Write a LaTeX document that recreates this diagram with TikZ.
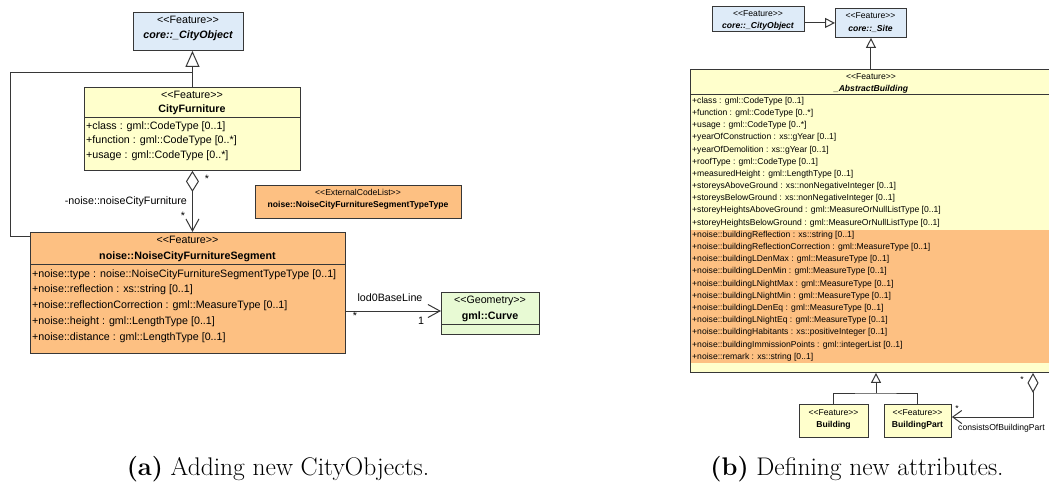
\documentclass[tikz,border=0pt]{standalone}
\usepackage{fontspec}
\setsansfont{Liberation Sans}
\usetikzlibrary{arrows.meta}

\definecolor{featblue}{RGB}{222,235,248}
\definecolor{featyellow}{RGB}{255,255,204}
\definecolor{noiseorange}{RGB}{253,192,130}
\definecolor{geomgreen}{RGB}{232,250,212}
\definecolor{umlline}{RGB}{55,55,55}

\tikzset{classe/.style={draw=umlline,line width=0.9pt,fill=#1,inner sep=0pt,anchor=north west},classe/.default={featyellow}}
\tikzset{grand/.style={inner sep=0pt,text height=7.7pt,text depth=2.1pt,font=\sffamily\fontsize{10.7}{12}\selectfont},
petit/.style={inner sep=0pt,text height=6.2pt,text depth=1.7pt,font=\sffamily\fontsize{8.6}{10}\selectfont},
capt/.style={inner sep=0pt,anchor=base,font=\rmfamily\fontsize{25.5}{28}\selectfont},
ligne/.style={draw=umlline,line width=1pt},
gen/.style={ligne,-{Triangle[open,length=16pt,width=14pt]}},
genb/.style={ligne,-{Triangle[open,length=10pt,width=10pt]}},
agg/.style={ligne,{Diamond[open,length=21pt,width=13pt]}-{Straight Barb[length=12pt,width=13pt]}},
aggb/.style={ligne,{Diamond[open,length=20pt,width=11pt]}-{Straight Barb[length=9pt,width=13pt]}},
assoc/.style={ligne,-{Straight Barb[length=12pt,width=13pt]}}}

\begin{document}
\begin{tikzpicture}[x=1pt,y=-1pt]
\useasboundingbox (0,0) rectangle (1049,482);
\clip (0,0) rectangle (1049,482);

% (a) adding new CityObjects
\node [classe=featblue,minimum width=110pt,minimum height=38pt] (cityobjA) at (133,12) {};
\node [grand] (cityobjAst) at (188,21) {<{}<Feature>{}>};
\node [grand] (cityobjAnm) at (188,36) {\bfseries\itshape core::\_CityObject};

\node [classe,minimum width=216pt,minimum height=83pt] (cfurn) at (84,87) {};
\node [grand] (cfurnst) at (192,96) {<{}<Feature>{}>};
\node [grand] (cfurnnm) at (192,110) {\bfseries CityFurniture};
\draw [umlline,line width=0.9pt] (cfurn.west |- 0,117) -- (cfurn.east |- 0,117);
\node [grand,anchor=west] (cfurn1) at (86,127) {+class : gml::CodeType [0..1]};
\node [grand,anchor=west] (cfurn2) at (86,141) {+function : gml::CodeType [0..*]};
\node [grand,anchor=west] (cfurn3) at (86,156) {+usage : gml::CodeType [0..*]};

\node [classe=noiseorange,minimum width=206pt,minimum height=33pt] (extcode) at (255,185) {};
\node [petit] (extcodest) at (358,193) {<{}<ExternalCodeList>{}>};
\node [petit] (extcodenm) at (358,205) {\bfseries noise::NoiseCityFurnitureSegmentTypeType};

\node [classe=noiseorange,minimum width=315pt,minimum height=121pt] (seg) at (30,232) {};
\node [grand] (segst) at (187.5,241) {<{}<Feature>{}>};
\node [grand] (segnm) at (187.5,257) {\bfseries noise::NoiseCityFurnitureSegment};
\draw [umlline,line width=0.9pt] (seg.west |- 0,264) -- (seg.east |- 0,264);
\node [grand,anchor=west] (seg1) at (32,275) {+noise::type : noise::NoiseCityFurnitureSegmentTypeType [0..1]};
\node [grand,anchor=west] (seg2) at (32,290) {+noise::reflection : xs::string [0..1]};
\node [grand,anchor=west] (seg3) at (32,306) {+noise::reflectionCorrection : gml::MeasureType [0..1]};
\node [grand,anchor=west] (seg4) at (32,322) {+noise::height : gml::LengthType [0..1]};
\node [grand,anchor=west] (seg5) at (32,338) {+noise::distance : gml::LengthType [0..1]};

\node [classe=geomgreen,minimum width=98pt,minimum height=42pt] (curve) at (441,292) {};
\node [grand] (curvest) at (490,301) {<{}<Geometry>{}>};
\node [grand] (curvenm) at (490,317) {\bfseries gml::Curve};
\draw [umlline,line width=0.9pt] (curve.west |- 0,324) -- (curve.east |- 0,324);

\coordinate (genjoin) at (192,72);
\coordinate (coin) at (10,72);
\draw [gen] (cfurn.north) -- (cfurn.north |- cityobjA.south);
\draw [ligne] (seg.west |- 0,236) -| (coin) -- (genjoin);
\draw [agg] (cfurn.south) -- (cfurn.south |- seg.north);
\node [grand] (aggstar1) at (207,180) {*};
\node [grand] (aggstar2) at (183,217) {*};
\node [grand,anchor=east] (agglabel) at (187,202) {-noise::noiseCityFurniture};
\draw [assoc] (seg.east |- 0,311) -- (curve.west |- 0,311);
\node [grand] (assoclabel) at (390,299) {lod0BaseLine};
\node [grand] (assocstar) at (355,317) {*};
\node [grand] (assocone) at (421,322) {1};

% (b) defining new attributes
\node [classe=featblue,minimum width=92pt,minimum height=25pt] (cityobjB) at (712,6) {};
\node [petit] (cityobjBst) at (758,14) {<{}<Feature>{}>};
\node [petit] (cityobjBnm) at (758,26) {\bfseries\itshape core::\_CityObject};

\node [classe=featblue,minimum width=71pt,minimum height=29pt] (site) at (835,8) {};
\node [petit] (sitest) at (870.5,16) {<{}<Feature>{}>};
\node [petit] (sitenm) at (870.5,29) {\bfseries\itshape core::\_Site};

\node [classe,minimum width=362pt,minimum height=303pt] (abstr) at (690,69) {};
\fill [noiseorange] (690.5,230) rectangle (1049,363);
\node [petit] (abstrst) at (871,77) {<{}<Feature>{}>};
\node [petit] (abstrnm) at (871,89) {\bfseries\itshape \_AbstractBuilding};
\draw [umlline,line width=0.9pt] (abstr.west |- 0,94) -- (abstr.east |- 0,94);
\node [petit,anchor=west] (attr1) at (692,101.0) {+class : gml::CodeType [0..1]};
\node [petit,anchor=west] (attr2) at (692,113.2) {+function : gml::CodeType [0..*]};
\node [petit,anchor=west] (attr3) at (692,125.4) {+usage : gml::CodeType [0..*]};
\node [petit,anchor=west] (attr4) at (692,137.6) {+yearOfConstruction : xs::gYear [0..1]};
\node [petit,anchor=west] (attr5) at (692,149.8) {+yearOfDemolition : xs::gYear [0..1]};
\node [petit,anchor=west] (attr6) at (692,161.9) {+roofType : gml::CodeType [0..1]};
\node [petit,anchor=west] (attr7) at (692,174.1) {+measuredHeight : gml::LengthType [0..1]};
\node [petit,anchor=west] (attr8) at (692,186.3) {+storeysAboveGround : xs::nonNegativeInteger [0..1]};
\node [petit,anchor=west] (attr9) at (692,198.5) {+storeysBelowGround : xs::nonNegativeInteger [0..1]};
\node [petit,anchor=west] (attr10) at (692,210.7) {+storeyHeightsAboveGround : gml::MeasureOrNullListType [0..1]};
\node [petit,anchor=west] (attr11) at (692,222.9) {+storeyHeightsBelowGround : gml::MeasureOrNullListType [0..1]};
\node [petit,anchor=west] (attr12) at (692,235.1) {+noise::buildingReflection : xs::string [0..1]};
\node [petit,anchor=west] (attr13) at (692,247.3) {+noise::buildingReflectionCorrection : gml::MeasureType [0..1]};
\node [petit,anchor=west] (attr14) at (692,259.5) {+noise::buildingLDenMax : gml::MeasureType [0..1]};
\node [petit,anchor=west] (attr15) at (692,271.7) {+noise::buildingLDenMin : gml::MeasureType [0..1]};
\node [petit,anchor=west] (attr16) at (692,283.9) {+noise::buildingLNightMax : gml::MeasureType [0..1]};
\node [petit,anchor=west] (attr17) at (692,296.0) {+noise::buildingLNightMin : gml::MeasureType [0..1]};
\node [petit,anchor=west] (attr18) at (692,308.2) {+noise::buildingLDenEq : gml::MeasureType [0..1]};
\node [petit,anchor=west] (attr19) at (692,320.4) {+noise::buildingLNightEq : gml::MeasureType [0..1]};
\node [petit,anchor=west] (attr20) at (692,332.6) {+noise::buildingHabitants : xs::positiveInteger [0..1]};
\node [petit,anchor=west] (attr21) at (692,344.8) {+noise::buildingImmissionPoints : gml::integerList [0..1]};
\node [petit,anchor=west] (attr22) at (692,357.0) {+noise::remark : xs::string [0..1]};

\node [classe,minimum width=69pt,minimum height=33pt] (bldg) at (799,404) {};
\node [petit] (bldgst) at (833.5,413) {<{}<Feature>{}>};
\node [petit] (bldgnm) at (833.5,425) {\bfseries Building};
\node [classe,minimum width=67pt,minimum height=33pt] (bpart) at (884,404) {};
\node [petit] (bpartst) at (917.5,413) {<{}<Feature>{}>};
\node [petit] (bpartnm) at (917.5,425) {\bfseries BuildingPart};

\draw [genb] (cityobjB.east |- site.west) -- (site.west);
\draw [genb] (site.south |- abstr.north) -- (site.south);
\coordinate (genbas) at (876,393);
\draw [genb] (genbas) -- (genbas |- abstr.south);
\draw [ligne] (bldg.north) |- (genbas) -| (bpart.north);
\coordinate (aggcoude) at (1033,417);
\draw [aggb] (abstr.south -| aggcoude) -- (aggcoude) -- (bpart.east |- aggcoude);
\node [petit] (aggbstar1) at (1022,380) {*};
\node [petit] (aggbstar2) at (957,409) {*};
\node [petit,anchor=west] (aggblabel) at (958,428) {consistsOfBuildingPart};

% captions
\node [capt] (capa) at (278,475) {\textbf{(a)} Adding new CityObjects.};
\node [capt] (capb) at (857,475) {\textbf{(b)} Defining new attributes.};
\end{tikzpicture}
\end{document}
